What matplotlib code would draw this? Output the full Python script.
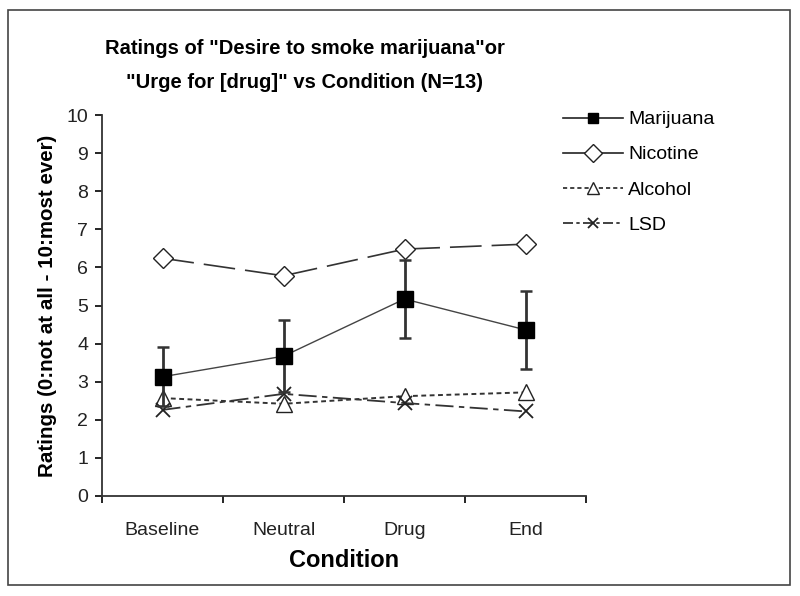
import matplotlib
matplotlib.use("Agg")
import matplotlib.pyplot as plt
from matplotlib.patches import Rectangle
from matplotlib.lines import Line2D
import numpy as np

plt.rcParams['font.family'] = ['Liberation Sans', 'DejaVu Sans']

conditions = ["Baseline", "Neutral", "Drug", "End"]
marijuana = [3.13, 3.67, 5.17, 4.36]
marijuana_err = [0.78, 0.95, 1.02, 1.02]
nicotine = [6.24, 5.78, 6.48, 6.61]
alcohol = [2.57, 2.42, 2.62, 2.72]
lsd = [2.26, 2.68, 2.44, 2.22]
yticks = list(range(0, 11))

fig = plt.figure(figsize=(8, 5.96), dpi=100)
fig.patches.append(Rectangle((8/800, 1-585/596), 782/800, 575/596, transform=fig.transFigure,
                             fill=False, edgecolor='#444444', linewidth=1.2))

ax = fig.add_axes([102/800, 1-496/596, 484/800, 381/596])
x = np.arange(len(conditions))

sq = dict(marker='s', markersize=11, markerfacecolor='black', markeredgecolor='black')
di = dict(marker='D', markersize=10, markerfacecolor='white', markeredgecolor='#222222')
tr = dict(marker='^', markersize=12, markerfacecolor='white', markeredgecolor='#222222')
xx = dict(marker='x', markersize=10, markeredgecolor='#222222', markeredgewidth=1.3)

ax.errorbar(x, marijuana, yerr=marijuana_err, color='#444444', linewidth=1.0,
            ecolor='#333333', elinewidth=2.0, capsize=4, capthick=1.8, zorder=4, **sq)
ax.plot(x, nicotine, color='#333333', linewidth=1.2, dashes=(19, 6), zorder=3, **di)
ax.plot(x, alcohol, color='#333333', linewidth=1.4, dashes=(2.5, 1.8), zorder=3, **tr)
ax.plot(x, lsd, color='#333333', linewidth=1.3, dashes=(10, 3, 3, 3), zorder=3, **xx)

ax.set_xlim(-0.5, 3.5)
ax.set_ylim(0, 10)
ax.set_yticks(yticks)
ax.set_xticks(x)
ax.set_xticklabels(conditions, fontsize=14, color='#222222')
ax.set_xticks(np.arange(-0.5, 4.0, 1.0), minor=True)
ax.tick_params(axis='x', which='major', length=0, pad=19)
ax.tick_params(axis='x', which='minor', length=5, width=1.2, direction='out')
ax.tick_params(axis='y', length=5, width=1.2, direction='out', labelsize=14, labelcolor='#222222', pad=5)
for s in ['top', 'right']:
    ax.spines[s].set_visible(False)
for s in ['left', 'bottom']:
    ax.spines[s].set_linewidth(1.3)
    ax.spines[s].set_color('#333333')

ax.set_xlabel('Condition', fontsize=17, fontweight='bold', labelpad=7)
ax.set_ylabel('Ratings (0:not at all - 10:most ever)', fontsize=14.8, fontweight='bold', labelpad=7)

fig.text(305/800, 1-49/596, 'Ratings of "Desire to smoke marijuana"or', ha='center', va='center',
         fontsize=14.5, fontweight='bold')
fig.text(305/800, 1-83/596, '"Urge for [drug]" vs Condition (N=13)', ha='center', va='center',
         fontsize=14.5, fontweight='bold')

lsq = dict(sq, markersize=7.5)
ldi = dict(di, markersize=9)
ltr = dict(tr, markersize=9)
lxx = dict(xx, markersize=7)
handles = [
    Line2D([], [], color='#222222', linewidth=1.2, **lsq),
    Line2D([], [], color='#222222', linewidth=1.2, **ldi),
    Line2D([], [], color='#222222', linewidth=1.2, dashes=(2.5, 1.8), **ltr),
    Line2D([], [], color='#222222', linewidth=1.2, dashes=(6, 2, 2, 2), **lxx),
]
labels = ["Marijuana", "Nicotine", "Alcohol", "LSD"]
fig.legend(handles, labels, loc='upper left', bbox_to_anchor=(555/800, 1-103/596), frameon=False,
           fontsize=14, handlelength=3.1, labelspacing=0.9, handletextpad=0.25, borderaxespad=0)

fig.savefig('out.png', dpi=100)
